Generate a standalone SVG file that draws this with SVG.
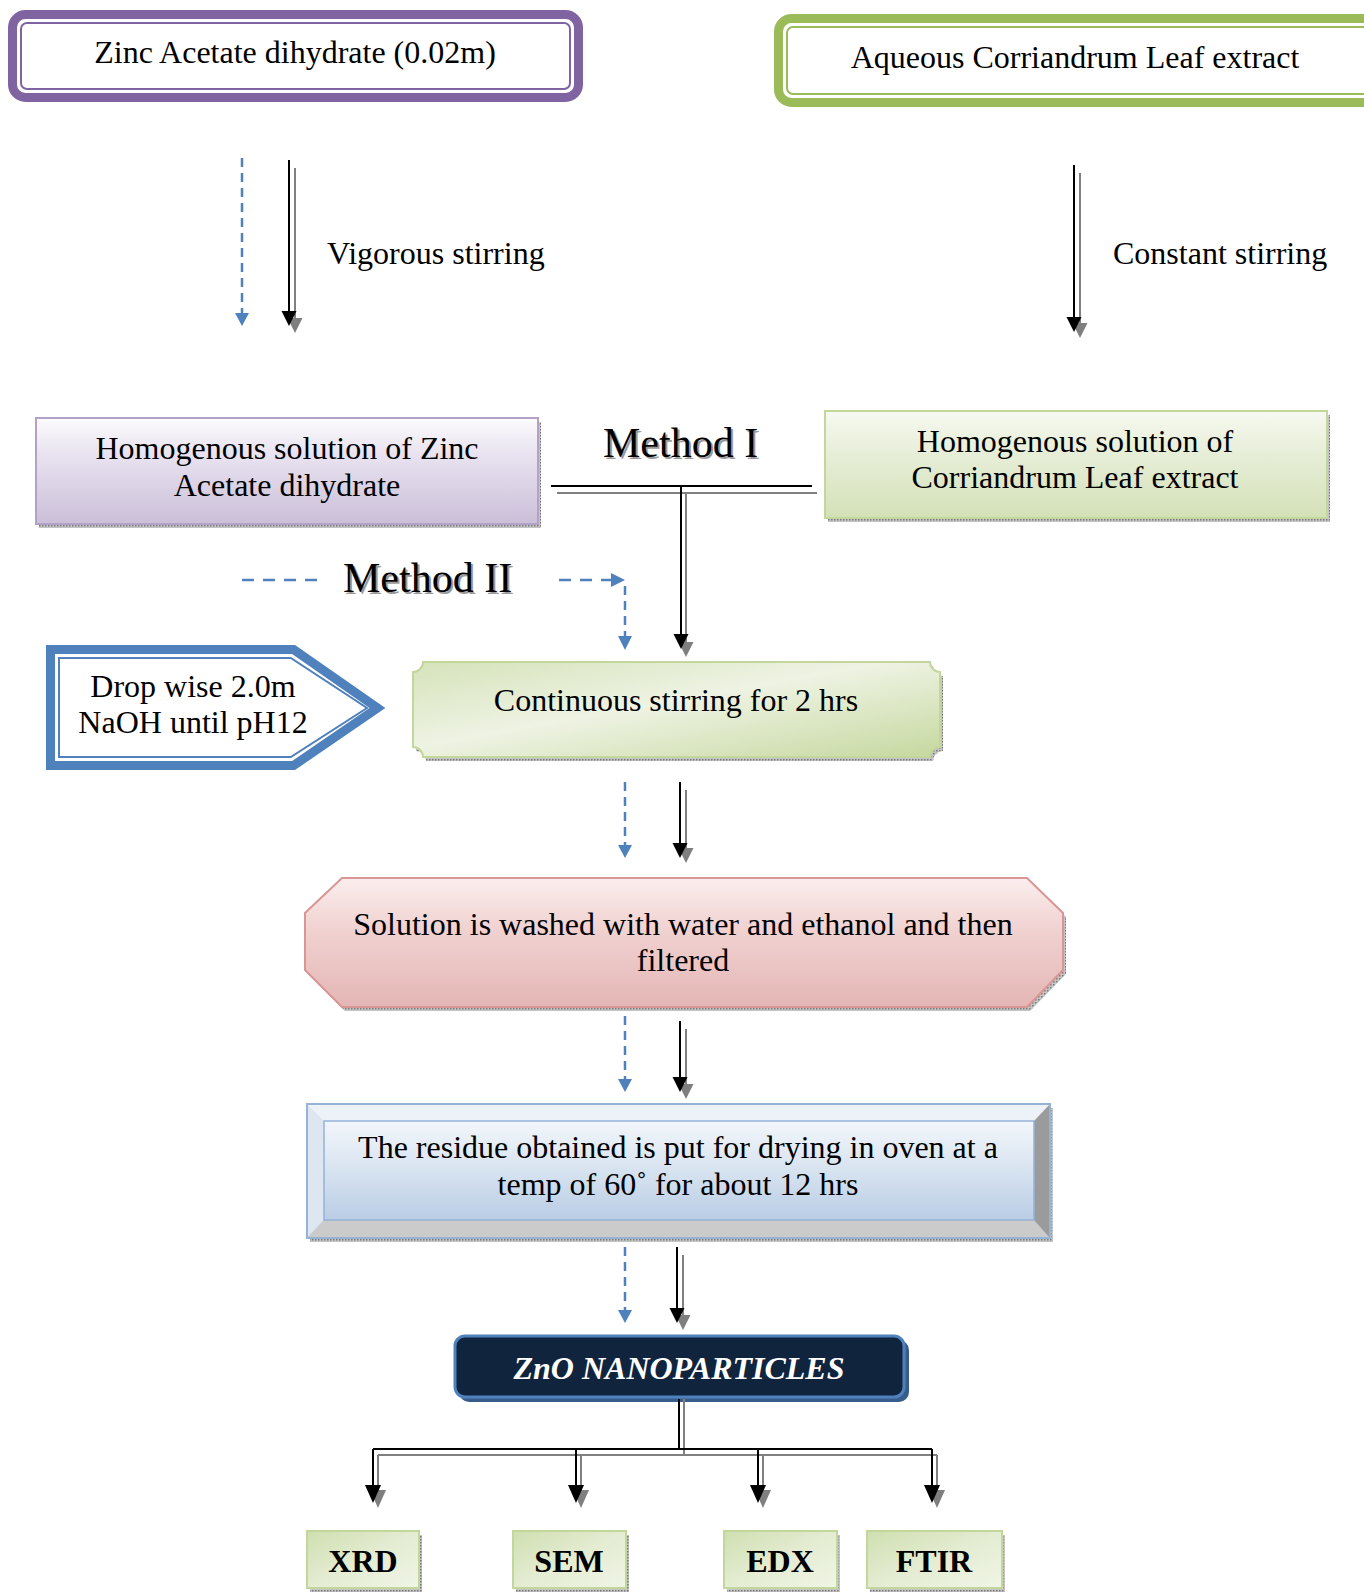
<svg xmlns="http://www.w3.org/2000/svg" width="1364" height="1592" viewBox="0 0 1364 1592">
<defs>
<style>
text{font-family:"Liberation Serif","Times New Roman",serif;font-size:32px;fill:#000}
.c{text-anchor:middle}
.meth{font-size:42px}
.msh{font-size:42px;fill:#9a9a9a}
.bold{font-weight:bold}
.zno{font-weight:bold;font-style:italic;fill:#fff}
.blk{stroke:#000;stroke-width:2;fill:none}
.gry{stroke:#808080;stroke-width:2;fill:none}
.dash{stroke:#4f81bd;stroke-width:2.5;fill:none;stroke-dasharray:9,6}
.dashh{stroke:#4f81bd;stroke-width:2.5;fill:none;stroke-dasharray:12,9}
.hb{fill:#000}
.hg{fill:#7f7f7f}
.hbl{fill:#4f81bd}
</style>
<pattern id="dots" width="3" height="3" patternUnits="userSpaceOnUse">
<rect width="3" height="3" fill="#c4c4c4"/><rect width="1.5" height="1.5" fill="#7a7a7a"/>
</pattern>
<linearGradient id="gPurp" x1="0" y1="0" x2="0" y2="1">
<stop offset="0" stop-color="#fcfbfd"/><stop offset="0.35" stop-color="#e8e2f0"/><stop offset="1" stop-color="#cbbfd9"/>
</linearGradient>
<linearGradient id="gGreen" x1="0" y1="0" x2="0" y2="1">
<stop offset="0" stop-color="#f6f9f0"/><stop offset="0.4" stop-color="#e7eed8"/><stop offset="1" stop-color="#d3e1b7"/>
</linearGradient>
<linearGradient id="gPlaque" x1="0" y1="0" x2="1" y2="1">
<stop offset="0" stop-color="#d5e3ba"/><stop offset="0.45" stop-color="#eef3e3"/><stop offset="1" stop-color="#c6d89f"/>
</linearGradient>
<linearGradient id="gPink" x1="0" y1="0" x2="0" y2="1">
<stop offset="0" stop-color="#fbeeee"/><stop offset="0.4" stop-color="#f0d2d1"/><stop offset="1" stop-color="#e4b6b5"/>
</linearGradient>
<linearGradient id="gBlue" x1="0" y1="0" x2="0" y2="1">
<stop offset="0" stop-color="#f3f6fb"/><stop offset="0.4" stop-color="#dde7f2"/><stop offset="1" stop-color="#b9cde5"/>
</linearGradient>
<linearGradient id="gSmall" x1="0" y1="0" x2="1" y2="1">
<stop offset="0" stop-color="#cfdfb0"/><stop offset="0.5" stop-color="#e4ecd2"/><stop offset="1" stop-color="#f0f5e6"/>
</linearGradient>
</defs>
<rect width="1364" height="1592" fill="#fff"/>

<g id="zinc-acetate">
<rect x="12.5" y="14.5" width="566" height="83" rx="13" fill="#fff" stroke="#8064a2" stroke-width="9"/>
<rect x="21" y="23" width="549" height="66" rx="6" fill="#fff" stroke="#8064a2" stroke-width="2"/>
<text class="c" x="295" y="63">Zinc Acetate dihydrate (0.02m)</text>
</g>

<g id="coriander-extract">
<rect x="778.5" y="18.5" width="600" height="84" rx="13" fill="#fff" stroke="#9bbb59" stroke-width="9"/>
<rect x="787" y="27" width="590" height="67" rx="6" fill="#fff" stroke="#9bbb59" stroke-width="2"/>
<text class="c" x="1075" y="68">Aqueous Corriandrum Leaf extract</text>
</g>

<g id="label-vigorous"><text x="327" y="264">Vigorous stirring</text></g>
<g id="label-constant"><text x="1113" y="264">Constant stirring</text></g>

<g id="hom-zinc">
<rect x="39" y="422" width="502" height="106" fill="url(#dots)"/>
<rect x="36" y="418" width="502" height="106" fill="url(#gPurp)" stroke="#b3a2c7" stroke-width="2"/>
<text class="c" x="287" y="459">Homogenous solution of Zinc</text>
<text class="c" x="287" y="496">Acetate dihydrate</text>
</g>

<g id="method-1">
<text class="msh" x="605" y="459">Method I</text>
<text class="meth" x="603" y="457">Method I</text>
</g>

<g id="hom-coriander">
<rect x="828" y="415" width="502" height="107" fill="url(#dots)"/>
<rect x="825" y="411" width="502" height="107" fill="url(#gGreen)" stroke="#c3d69b" stroke-width="2"/>
<text class="c" x="1075" y="452">Homogenous solution of</text>
<text class="c" x="1075" y="488">Corriandrum Leaf extract</text>
</g>

<g id="method-2">
<text class="msh" x="345" y="594">Method II</text>
<text class="meth" x="343" y="592">Method II</text>
</g>

<g id="naoh">
<polygon points="50.5,649.5 293.6,649.5 377.5,708 293.6,765.5 50.5,765.5" fill="#fff" stroke="#4f81bd" stroke-width="9" stroke-linejoin="miter"/>
<polygon points="59,658 290.8,658 367,708 290.8,757 59,757" fill="#fff" stroke="#4f81bd" stroke-width="2"/>
<text class="c" x="193" y="697">Drop wise 2.0m</text>
<text class="c" x="193" y="733">NaOH until pH12</text>
</g>

<g id="continuous-stirring">
<path d="M426,666 H933 A10,10 0 0 0 943,676 V751 A10,10 0 0 0 933,761 H426 A10,10 0 0 0 416,751 V676 A10,10 0 0 0 426,666 Z" fill="url(#dots)"/>
<path d="M423,662 H930 A10,10 0 0 0 940,672 V747 A10,10 0 0 0 930,757 H423 A10,10 0 0 0 413,747 V672 A10,10 0 0 0 423,662 Z" fill="url(#gPlaque)" stroke="#c3d69b" stroke-width="2"/>
<text class="c" x="676" y="711">Continuous stirring for 2 hrs</text>
</g>

<g id="wash-filter">
<polygon points="345,882 1030,882 1066,917 1066,974 1030,1011 345,1011 308,974 308,917" fill="url(#dots)"/>
<polygon points="342,878 1027,878 1063,913 1063,970 1027,1007 342,1007 305,970 305,913" fill="url(#gPink)" stroke="#d99694" stroke-width="2"/>
<text class="c" x="683" y="935">Solution is washed with water and ethanol and then</text>
<text class="c" x="683" y="971">filtered</text>
</g>

<g id="drying">
<rect x="310" y="1108" width="743" height="134" fill="url(#dots)"/>
<rect x="307" y="1104" width="743" height="134" fill="url(#gBlue)"/>
<polygon points="307,1104 1050,1104 1034,1121 324,1121" fill="#edf2f8"/>
<polygon points="307,1104 324,1121 324,1220 307,1238" fill="#dde6f1"/>
<polygon points="307,1238 324,1220 1034,1220 1050,1238" fill="#cbcbcb"/>
<polygon points="1050,1104 1034,1121 1034,1220 1050,1238" fill="#9b9b9b"/>
<rect x="324" y="1121" width="710" height="99" fill="url(#gBlue)" stroke="#95b3d7" stroke-width="1.5"/>
<rect x="307" y="1104" width="743" height="134" fill="none" stroke="#95b3d7" stroke-width="2"/>
<text class="c" x="678" y="1158">The residue obtained is put for drying in oven at a</text>
<text class="c" x="678" y="1195">temp of 60˚ for about 12 hrs</text>
</g>

<g id="zno">
<rect x="459" y="1340" width="450" height="62" rx="10" fill="#385d8a"/>
<rect x="455" y="1336" width="449" height="61" rx="10" fill="#10243e" stroke="#4f81bd" stroke-width="3"/>
<text class="c zno" x="679" y="1379">ZnO NANOPARTICLES</text>
</g>

<g id="xrd">
<rect x="310" y="1535" width="112" height="57" fill="url(#dots)"/>
<rect x="307" y="1531" width="112" height="57" fill="url(#gSmall)" stroke="#c3d69b" stroke-width="2"/>
<text class="c bold" x="363" y="1572">XRD</text>
</g>
<g id="sem">
<rect x="516" y="1535" width="113" height="57" fill="url(#dots)"/>
<rect x="513" y="1531" width="113" height="57" fill="url(#gSmall)" stroke="#c3d69b" stroke-width="2"/>
<text class="c bold" x="569" y="1572">SEM</text>
</g>
<g id="edx">
<rect x="727" y="1535" width="113" height="57" fill="url(#dots)"/>
<rect x="724" y="1531" width="113" height="57" fill="url(#gSmall)" stroke="#c3d69b" stroke-width="2"/>
<text class="c bold" x="780" y="1572">EDX</text>
</g>
<g id="ftir">
<rect x="870" y="1535" width="135" height="57" fill="url(#dots)"/>
<rect x="867" y="1531" width="135" height="57" fill="url(#gSmall)" stroke="#c3d69b" stroke-width="2"/>
<text class="c bold" x="934" y="1572">FTIR</text>
</g>

<g id="connectors">
<path class="dash" d="M242,158 V314"/>
<polygon class="hbl" points="235,313 249,313 242,326"/>
<path class="dashh" d="M242,580 H325"/>
<path class="dashh" d="M559,580 H612"/>
<polygon class="hbl" points="611,573 611,587 625,580"/>
<path class="dash" d="M625,586 V637"/>
<polygon class="hbl" points="618,636 632,636 625,650"/>
<path class="dash" d="M625,782 V846"/>
<polygon class="hbl" points="618,845 632,845 625,858"/>
<path class="dash" d="M625,1016 V1080"/>
<polygon class="hbl" points="618,1079 632,1079 625,1092"/>
<path class="dash" d="M625,1247 V1311"/>
<polygon class="hbl" points="618,1310 632,1310 625,1323"/>

<path class="gry" d="M295,168 V318"/>
<polygon class="hg" points="287.5,318 302.5,318 295,333"/>
<path class="gry" d="M1080,173 V323"/>
<polygon class="hg" points="1072.5,323 1087.5,323 1080,338"/>
<path class="gry" d="M557,493 H817 M686,493 V642"/>
<polygon class="hg" points="678.5,642 693.5,642 686,657"/>
<path class="gry" d="M686,790 V848"/>
<polygon class="hg" points="678.5,848 693.5,848 686,863"/>
<path class="gry" d="M686,1029 V1084"/>
<polygon class="hg" points="678.5,1084 693.5,1084 686,1099"/>
<path class="gry" d="M683,1255 V1315"/>
<polygon class="hg" points="675.5,1315 690.5,1315 683,1330"/>
<path class="gry" d="M684,1399 V1455 M378,1455 H937 M378,1455 V1490 M581,1455 V1490 M763,1455 V1490 M937,1455 V1490"/>
<polygon class="hg" points="370,1490 386,1490 378,1508"/>
<polygon class="hg" points="573,1490 589,1490 581,1508"/>
<polygon class="hg" points="755,1490 771,1490 763,1508"/>
<polygon class="hg" points="929,1490 945,1490 937,1508"/>

<path class="blk" d="M289,160 V311"/>
<polygon class="hb" points="281.5,311 296.5,311 289,326"/>
<path class="blk" d="M1074,165 V317"/>
<polygon class="hb" points="1066.5,317 1081.5,317 1074,332"/>
<path class="blk" d="M551,486 H812 M681,486 V634"/>
<polygon class="hb" points="673.5,634 688.5,634 681,649"/>
<path class="blk" d="M680,782 V843"/>
<polygon class="hb" points="672.5,843 687.5,843 680,858"/>
<path class="blk" d="M680,1021 V1077"/>
<polygon class="hb" points="672.5,1077 687.5,1077 680,1092"/>
<path class="blk" d="M677,1247 V1308"/>
<polygon class="hb" points="669.5,1308 684.5,1308 677,1323"/>
<path class="blk" d="M679,1399 V1449 M373,1449 H932 M373,1449 V1485 M576,1449 V1485 M758,1449 V1485 M932,1449 V1485"/>
<polygon class="hb" points="365,1485 381,1485 373,1503"/>
<polygon class="hb" points="568,1485 584,1485 576,1503"/>
<polygon class="hb" points="750,1485 766,1485 758,1503"/>
<polygon class="hb" points="924,1485 940,1485 932,1503"/>
</g>
</svg>
